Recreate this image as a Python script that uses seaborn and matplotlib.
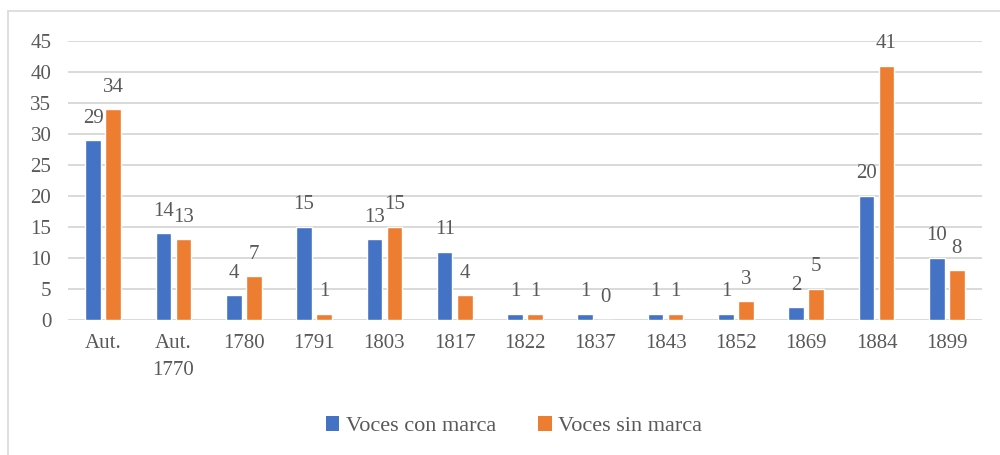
import pandas as pd
import numpy as np
import matplotlib.pyplot as plt
from matplotlib.lines import Line2D
from matplotlib.patches import Patch
import seaborn as sns

# ── Data ─────────────────────────────────────────────────────────────────────
categories = ['Aut.', 'Aut.\n1770', '1780', '1791', '1803', '1817', '1822',
              '1837', '1843', '1852', '1869', '1884', '1899']
con_marca = [29, 14, 4, 15, 13, 11, 1, 1, 1, 1, 2, 20, 10]
sin_marca = [34, 13, 7, 1, 15, 4, 1, 0, 1, 3, 5, 41, 8]
series_names = ['Voces con marca', 'Voces sin marca']
palette = ['#4472C4', '#ED7D31']

df = pd.DataFrame({
    'cat': categories * 2,
    'value': con_marca + sin_marca,
    'serie': [series_names[0]] * len(categories) + [series_names[1]] * len(categories),
})

sns.set_style('white')
plt.rcParams['font.family'] = ['Liberation Serif', 'DejaVu Serif']
text_col = '#595959'

fig = plt.figure(figsize=(10, 4.55), dpi=100)
ax = fig.add_axes([0.068, 0.297, 0.914, 0.613])

sns.barplot(data=df, x='cat', y='value', hue='serie', palette=palette,
            order=categories, hue_order=series_names, width=0.57, gap=0.22,
            saturation=1, ax=ax, legend=False, zorder=3)

# value labels above each bar
for cont in ax.containers:
    ax.bar_label(cont, padding=9, fontsize=15, color=text_col)

ax.set_ylim(0, 45)
ax.set_yticks(range(0, 46, 5))
ax.set_xlim(-0.5, len(categories) - 0.5)
ax.yaxis.grid(True, color='#d9d9d9', linewidth=1.4, zorder=0)
ax.set_axisbelow(True)
for s in ax.spines.values():
    s.set_visible(False)
ax.set_xlabel('')
ax.set_ylabel('')
ax.tick_params(axis='both', length=0, labelsize=15, colors=text_col)
ax.tick_params(axis='y', pad=12)
ax.tick_params(axis='x', pad=10)
for lbl in ax.get_xticklabels():
    lbl.set_verticalalignment('top')
    lbl.set_linespacing(1.6)

handles = [Patch(facecolor=c, edgecolor='none') for c in palette]
fig.legend(handles, series_names, loc='center', bbox_to_anchor=(0.514, 0.063),
           ncol=2, frameon=False, fontsize=16, handlelength=0.6, handleheight=0.6,
           handletextpad=0.3, columnspacing=1.9, labelcolor=text_col)

# outer chart border (left and top visible)
fig.add_artist(Line2D([0.008, 0.008], [0.0, 0.976], color='#d9d9d9', lw=1.2,
                      transform=fig.transFigure))
fig.add_artist(Line2D([0.008, 1.0], [0.976, 0.976], color='#d9d9d9', lw=1.2,
                      transform=fig.transFigure))

plt.savefig('out.png', dpi=100, facecolor='white')
